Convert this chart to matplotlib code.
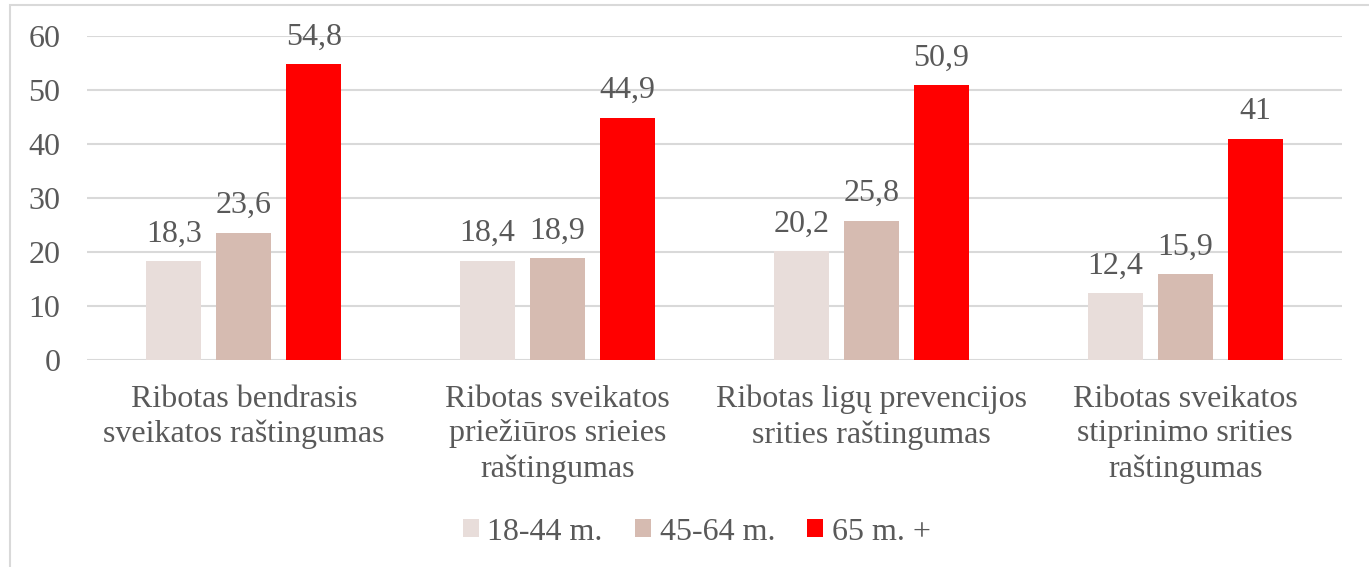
import matplotlib.pyplot as plt
import matplotlib.patches as mpatches
import numpy as np

plt.rcParams["font.family"] = ["Liberation Serif", "DejaVu Serif"]

categories = [
    "Ribotas bendrasis\nsveikatos raštingumas",
    "Ribotas sveikatos\npriežiūros srieies\nraštingumas",
    "Ribotas ligų prevencijos\nsrities raštingumas",
    "Ribotas sveikatos\nstiprinimo srities\nraštingumas",
]
series_names = ["18-44 m.", "45-64 m.", "65 m. +"]
vals_18_44 = [18.3, 18.4, 20.2, 12.4]
vals_45_64 = [23.6, 18.9, 25.8, 15.9]
vals_65 = [54.8, 44.9, 50.9, 41]
colors = ["#E8DDDA", "#D6BBB1", "#FF0000"]

text_col = "#595959"
fs = 23

fig = plt.figure(figsize=(13.69, 5.67), dpi=100)
ax = fig.add_axes([87 / 1369, 1 - 360 / 567, (1342 - 87) / 1369, (360 - 36) / 567])

# chart frame
fig.patches.append(mpatches.Rectangle((10 / 1369, -0.01), 1.1, 1 - 5 / 567 + 0.01,
                                      transform=fig.transFigure, fill=False,
                                      edgecolor="#D9D9D9", linewidth=1.5))

x = np.arange(len(categories))
off = 0.223
w = 0.175
all_vals = [vals_18_44, vals_45_64, vals_65]
for i, (vals, name, c) in enumerate(zip(all_vals, series_names, colors)):
    bars = ax.bar(x + (i - 1) * off, vals, w, color=c, label=name, zorder=3)
    for b, v in zip(bars, vals):
        lab = f"{v:g}".replace(".", ",")
        ax.annotate(lab, (b.get_x() + b.get_width() / 2, v), xytext=(0, 9),
                    textcoords="offset points", ha="center", va="bottom",
                    fontsize=fs, color=text_col)

ax.set_xlim(-0.5, len(categories) - 0.5)
ax.set_ylim(0, 60)
ax.set_yticks(range(0, 61, 10))
ax.yaxis.grid(True, color="#D9D9D9", linewidth=1.5, zorder=0)
ax.set_axisbelow(True)
for s in ax.spines.values():
    s.set_visible(False)
ax.tick_params(axis="both", length=0, labelsize=fs, colors=text_col)
ax.tick_params(axis="y", pad=19)
ax.tick_params(axis="x", pad=18)
ax.set_xticks(x)
ax.set_xticklabels(categories, linespacing=1.25)

leg = fig.legend(loc="center", bbox_to_anchor=(0.509, 1 - 532 / 567), ncol=3,
                 frameon=False, fontsize=fs, handlelength=0.5, handleheight=0.5,
                 handletextpad=0.28, columnspacing=1.0)
for t in leg.get_texts():
    t.set_color(text_col)

fig.savefig("out.png", dpi=100)
